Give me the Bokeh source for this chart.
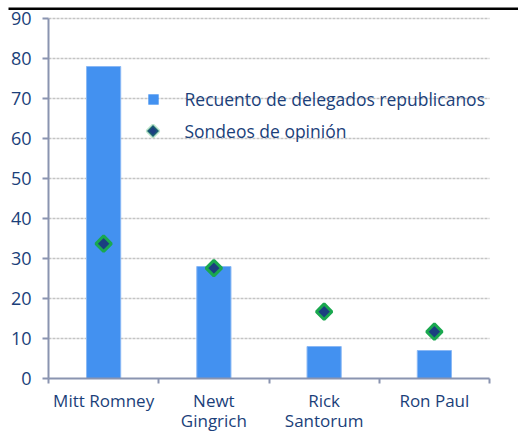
from bokeh.plotting import figure
from bokeh.models import (ColumnDataSource, FixedTicker, Legend, LegendItem,
                          Range1d, LinearAxis, PolyAnnotation, BoxAnnotation)
from bokeh.embed import file_html
from bokeh.resources import INLINE
import math

candidates = ["Mitt Romney", "Newt\nGingrich", "Rick\nSantorum", "Ron Paul"]
delegates = [78, 28, 8, 7]
polls = [33.7, 27.6, 16.7, 11.7]
y_ticks = [0, 10, 20, 30, 40, 50, 60, 70, 80, 90]

NAVY = "#1b3f7a"
BLUE = "#4391f0"
GREEN = "#1aa84f"
DARK = "#1b3f80"
AXIS = "#8a94b0"
FONT = "Open Sans"

W, H = 518, 432
# pixel placement of the plotting area inside the canvas
LEFT, RIGHT, TOP, BOTTOM = 48, 489, 18, 378
n = len(candidates)
px_x = (RIGHT - LEFT) / n
px_y = (BOTTOM - TOP) / y_ticks[-1]
x_range = Range1d(-LEFT / px_x, n + (W - RIGHT) / px_x)
y_range = Range1d(-(H - BOTTOM) / px_y, y_ticks[-1] + TOP / px_y)

xs = [i + 0.5 for i in range(n)]
src = ColumnDataSource(dict(x=xs, d=delegates, s=polls))
grid_src = ColumnDataSource(dict(y=y_ticks[1:]))

p = figure(width=W, height=H, output_backend="svg", toolbar_location=None,
           x_range=x_range, y_range=y_range,
           x_axis_location=None, y_axis_location=None,
           min_border_left=0, min_border_right=0, min_border_top=0,
           min_border_bottom=0)
p.outline_line_color = None
p.grid.visible = False

# dashed horizontal gridlines across the category span
p.segment(x0=0, x1=n, y0="y", y1="y", source=grid_src, line_color="#c4c4c4",
          line_width=1.5, line_dash="3 1")

p.vbar(x="x", top="d", width=0.31, source=src, fill_color=BLUE,
       line_color="#8ab8f5", line_width=1)
p.scatter(x="x", y="s", source=src, marker="square", angle=math.pi / 4,
          size=11, fill_color=DARK, line_color=GREEN, line_width=3)

# axes placed at the data origin
yaxis = LinearAxis(fixed_location=0, ticker=FixedTicker(ticks=y_ticks),
                   bounds=(y_ticks[0], y_ticks[-1]),
                   axis_line_color=AXIS, axis_line_width=2,
                   major_tick_line_color=AXIS, major_tick_line_width=2,
                   major_tick_out=6, major_tick_in=0,
                   minor_tick_line_color=None,
                   major_label_text_font=FONT, major_label_text_font_size="18px",
                   major_label_text_color=NAVY, major_label_standoff=11)
p.add_layout(yaxis, "left")

xaxis = LinearAxis(fixed_location=0,
                   ticker=FixedTicker(ticks=xs, minor_ticks=list(range(n + 1))),
                   bounds=(0, n),
                   major_label_overrides={x: c for x, c in zip(xs, candidates)},
                   axis_line_color=AXIS, axis_line_width=2,
                   major_tick_line_color=None, major_tick_out=0, major_tick_in=0,
                   minor_tick_line_color=AXIS, minor_tick_line_width=2,
                   minor_tick_out=5, minor_tick_in=0,
                   major_label_text_font=FONT, major_label_text_font_size="17px",
                   major_label_text_line_height=0.9,
                   major_label_text_color=NAVY, major_label_standoff=5)
p.add_layout(xaxis, "below")

# black rule along the top of the page
p.add_layout(BoxAnnotation(left=8, right=W, bottom=H - 9.5, top=H - 7,
                           left_units="screen", right_units="screen",
                           top_units="screen", bottom_units="screen",
                           fill_color="black", fill_alpha=1, line_color=None))

# legend: proxies kept outside the visible range
LEG_X, LEG_Y, GLYPH, SPACING = LEFT + 91.5, (H - BOTTOM) + 234.5, 26, 6
r1 = p.scatter(x=[-10], y=[-100], marker="square", fill_color=BLUE, line_color=None)
r2 = p.scatter(x=[-10], y=[-100], marker="square", fill_alpha=0, line_alpha=0)
legend = Legend(items=[LegendItem(label="Recuento de delegados republicanos", renderers=[r1]),
                       LegendItem(label="Sondeos de opinión", renderers=[r2])],
                location=(LEG_X, LEG_Y), glyph_width=GLYPH, glyph_height=GLYPH,
                spacing=SPACING, padding=0, margin=0, label_standoff=19,
                label_text_font=FONT, label_text_font_size="17.5px",
                label_text_color=NAVY, background_fill_alpha=0,
                border_line_color=None)
p.add_layout(legend)
# rotated-square key for the poll series (legend markers cannot be rotated)
cx, cy, r = LEG_X + GLYPH / 2, LEG_Y + GLYPH / 2, 6
p.add_layout(PolyAnnotation(xs=[cx, cx + r, cx, cx - r], ys=[cy + r, cy, cy - r, cy],
                            xs_units="screen", ys_units="screen",
                            fill_color=DARK, fill_alpha=1, line_color=GREEN,
                            line_width=3))

open("out.html", "w").write(file_html(p, INLINE))
